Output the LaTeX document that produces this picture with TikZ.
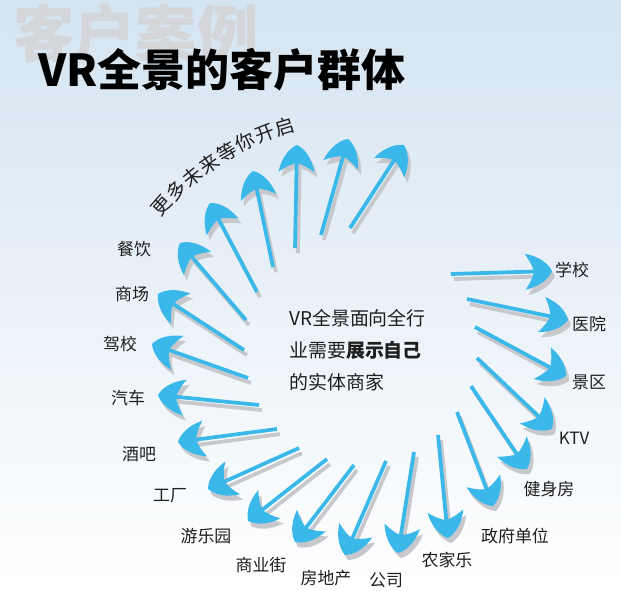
\documentclass[tikz,border=0pt]{standalone}
\usepackage{fontspec}
\newfontfamily\cjk{Noto Sans CJK SC}
\usetikzlibrary{decorations.markings}

\definecolor{arrowblue}{RGB}{58,184,234}
\definecolor{shadowgray}{RGB}{198,200,204}
\definecolor{bgtop}{RGB}{212,228,241}
\definecolor{bgmid}{RGB}{236,242,248}
\definecolor{marktext}{RGB}{212,214,218}
\definecolor{labeltext}{RGB}{30,30,30}

\tikzset{
  vr arrow/.style={draw=#1, line width=2.8pt, shorten >=10pt,
    postaction={decorate, decoration={markings,
      mark=at position 1 with {\fill[#1] (0,0) .. controls (-3,7) and (-12,15) .. (-27,18)
        .. controls (-22,11) and (-19,5) .. (-18,0)
        .. controls (-19,-5) and (-22,-11) .. (-27,-18)
        .. controls (-12,-15) and (-3,-7) .. cycle;}}}},
  arrow main/.style={vr arrow=arrowblue},
  arrow shadow/.style={vr arrow=shadowgray, transform canvas={xshift=2.2pt,yshift=-3.8pt}},
  lbl/.style={font=\cjk\fontsize{12.7}{14}\selectfont, text=labeltext, inner sep=0pt},
  more text/.style={font=\cjk\fontsize{14.5}{16}\selectfont, text=labeltext, inner sep=0pt}
}

\begin{document}
\begin{tikzpicture}[x=0.75pt,y=-0.75pt]

  % background
  \shade[top color=bgtop, middle color=bgmid, bottom color=white] (0,0) rectangle (621,590);
  \useasboundingbox (0,0) rectangle (621,590);

  % headings
  \node[anchor=west, font=\cjk\bfseries\fontsize{46}{50}\selectfont, text=marktext, inner sep=0pt] (watermark) at (13,33) {客户案例};
  \node[anchor=west, font=\cjk\bfseries\fontsize{33}{36}\selectfont, inner sep=0pt] (title) at (38,70) {VR全景的客户群体};

  % centre text
  \node[anchor=west, align=left, font=\cjk\fontsize{14.2}{24}\selectfont, text=labeltext, inner sep=0pt] (intro) at (289,350)
    {VR全景面向全行\\业需要{\bfseries 展示自己}\\的实体商家};

  % arrow ends
  \foreach \n/\tx/\ty/\hx/\hy in {
      1/246/320/180/243, 2/257/292/210/203, 3/273/267/253/171, 4/295/248/297/145,
      5/321/235/348/139, 6/350/228/404/145, 7/244/350/158/294, 8/248/378/152/344,
      9/259/405/158/395, 10/277/429/178/442, 11/299/448/208/489, 12/327/459/248/521,
      13/354/465/295/542, 14/386/461/345/555, 15/414/452/398/553, 16/438/435/448/538,
      17/457/412/493/506, 18/471/386/527/469, 19/477/358/552/429, 20/475/327/566/376,
      21/467/299/568/320, 22/451/274/552/271} {
    \coordinate (tail\n) at (\tx,\ty);
    \coordinate (tip\n) at (\hx,\hy);
  }

  % arrows
  \foreach \n in {1,...,22} \draw[arrow shadow] (tail\n) -- (tip\n);
  \foreach \n in {1,...,22} \draw[arrow main] (tail\n) -- (tip\n);

  % labels
  \node[lbl] (canyin) at (134,249) {餐饮};
  \node[lbl] (shangchang) at (132,294) {商场};
  \node[lbl] (jiaxiao) at (120,344) {驾校};
  \node[lbl] (qiche) at (128,398) {汽车};
  \node[lbl] (jiuba) at (139,454) {酒吧};
  \node[lbl] (gongchang) at (170,496) {工厂};
  \node[lbl] (youleyuan) at (206,536) {游乐园};
  \node[lbl] (shangyejie) at (261,565) {商业街};
  \node[lbl] (fangdichan) at (326,578) {房地产};
  \node[lbl] (gongsi) at (386,580) {公司};
  \node[lbl] (nongjiale) at (447,560) {农家乐};
  \node[lbl] (zhengfu) at (515,536) {政府单位};
  \node[lbl] (jianshen) at (549,489) {健身房};
  \node[lbl] (ktv) at (574,438) {KTV};
  \node[lbl] (jingqu) at (589,382) {景区};
  \node[lbl] (yiyuan) at (589,324) {医院};
  \node[lbl] (xuexiao) at (572,270) {学校};

  % text on the arc
  \foreach \ch [count=\i] in {更,多,未,来,等,你,开,启} {
    \pgfmathsetmacro\ang{138.7-(\i-1)*4.6}
    \node[more text, rotate=\ang-90] (more\i) at ({360+264*cos(\ang)},{380-264*sin(\ang)}) {\ch};
  }

\end{tikzpicture}
\end{document}
